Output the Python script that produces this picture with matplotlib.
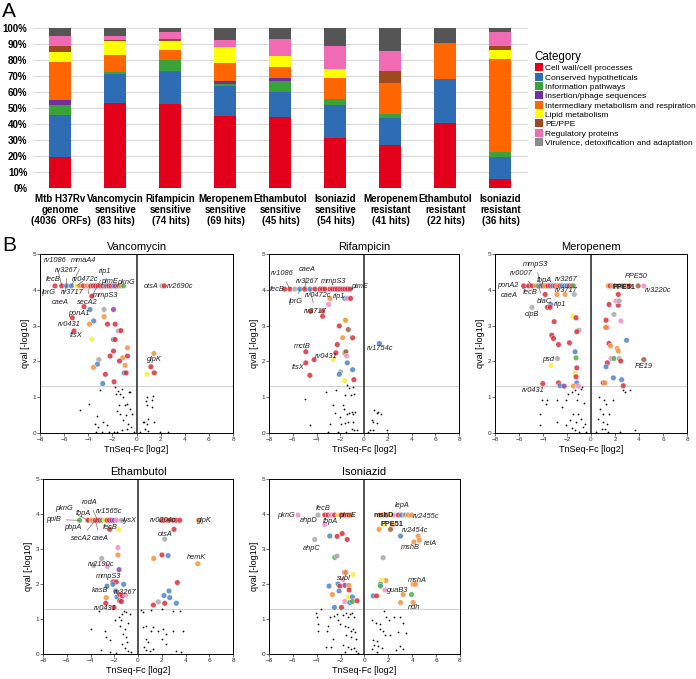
import numpy as np
import matplotlib
matplotlib.use("Agg")
import matplotlib.pyplot as plt
from matplotlib.patches import Patch

plt.rcParams["font.family"] = ["Liberation Sans", "DejaVu Sans"]

# ---------------- panel A data ----------------
CATEGORIES = [
    "Cell wall/cell processes", "Conserved hypotheticals", "Information pathways",
    "Insertion/phage sequences", "Intermediary metabolism and respiration",
    "Lipid metabolism", "PE/PPE", "Regulatory proteins",
    "Virulence, detoxification and adaptation",
]
CAT_KEYS = ["cw", "ch", "ip", "is", "im", "lm", "pe", "rp", "vd"]
BAR_COLORS = ["#e2001a", "#2e6db4", "#3aa338", "#7030a0", "#ff6600",
              "#ffff00", "#9e4a1e", "#f06bb4", "#555555"]
LEGEND_GREY = "#8c8c8c"
DOT_COLORS = {"cw": "#d9303f", "ch": "#4f86c6", "ip": "#4caf50", "is": "#8e44ad",
              "im": "#f5923e", "lm": "#f7ef3a", "pe": "#a0613a", "rp": "#ee8fc8",
              "vd": "#a8a8a8"}

BAR_LABELS = ["Mtb H37Rv\ngenome\n(4036  ORFs)", "Vancomycin\nsensitive\n(83 hits)",
              "Rifampicin\nsensitive\n(74 hits)", "Meropenem\nsensitive\n(69 hits)",
              "Ethambutol\nsensitive\n(45 hits)", "Isoniazid\nsensitive\n(54 hits)",
              "Meropenem\nresistant\n(41 hits)", "Ethambutol\nresistant\n(22 hits)",
              "Isoniazid\nresistant\n(36 hits)"]
# share per category, order of CATEGORIES (genome in %, others as hit counts)
GENOME = [19.5, 26.1, 6.3, 3.3, 23.3, 6.5, 3.9, 5.9, 5.2]
VAN_SENS = [44, 15, 1, 0, 9, 7, 1, 2, 4]
RIF_SENS = [39, 15, 5, 0, 5, 4, 1, 3, 2]
MER_SENS = [31, 13, 1, 1, 8, 7, 0, 3, 5]
ETH_SENS = [20, 7, 3, 1, 3, 3, 0, 5, 3]
INH_SENS = [17, 11, 2, 0, 7, 3, 0, 8, 6]
MER_RES = [11, 7, 1, 0, 8, 0, 3, 5, 6]
ETH_RES = [9, 6, 0, 0, 5, 0, 0, 0, 2]
INH_RES = [2, 5, 1, 0, 21, 2, 1, 3, 1]

# ---------------- panel B data ----------------
# Vancomycin
VAN_TOP_Q = 4.11
VAN_TOP_X = [-6.76, -6.2, -5.8, -5.4, -4.96, -4.7, -4.4, -4.1, -3.8, -3.6, -3.4, -3.2, -3.0,
             -2.8, -2.6, -2.5, -2.3, -2.1, -1.9, -1.75, -1.5, -1.3, -1.08, 2.1, 2.3]
VAN_TOP_CAT = ["cw", "cw", "ch", "ch", "lm", "im", "cw", "im", "cw", "cw", "cw", "cw", "cw",
               "cw", "cw", "ch", "cw", "cw", "ch", "is", "pe", "im", "ip", "vd", "cw"]
VAN_X = [-4.35, -3.71, -3.85, -2.69, -1.91, -3.55, -3.9, -5.32, -2.69, -2.41, -1.77, -5.18,
         -1.5, -1.3, -3.71, -1.91, -1.77, -0.75, -1.91, -2.19, -3.13, -1.14, -0.75, -1.41,
         -3.24, -0.94, -3.57, -1.02, -0.86, -2.58, -1.86, -2.8, 1.44, 1.19, 0.86, 1.47]
VAN_Q = [3.53, 3.82, 3.45, 3.45, 3.45, 3.13, 3.04, 3.22, 3.25, 3.04, 3.04, 2.85,
         2.85, 2.86, 2.62, 2.61, 2.61, 2.38, 2.29, 2.15, 2.05, 2.10, 2.15, 2.01,
         1.92, 1.89, 1.83, 1.68, 1.68, 1.64, 1.43, 1.38, 2.22, 1.85, 1.64, 1.68]
VAN_CAT = ["cw", "cw", "ch", "vd", "is", "ch", "im", "cw", "im", "cw", "cw", "cw",
           "vd", "cw", "lm", "ch", "cw", "im", "cw", "cw", "vd", "im", "cw", "cw",
           "ch", "im", "im", "ch", "cw", "cw", "cw", "ch", "im", "cw", "lm", "cw"]
VAN_BX = [-4.68, -3.93, -3.02, -3.3, -2.74, -3.43, -3.16, -2.47, -1.77, -1.5, -1.69, -1.36,
          -1.22, -0.66, -0.53, -1.08, -1.44, -1.58, -1.36, -0.94, -0.75, -0.53, -0.39, -0.86,
          -1.08, -0.72, -0.44, -0.8, -1.22, -1.63, 0.86, 1.36, 1.27, 0.8, 0.86, 1.27, 0.64,
          0.86, 0.53, 0.99, 1.41, 0.72, 0.99, 1.97, -3.4, -2.9, -2.3, -1.9, -0.2, 0.3, 2.6]
VAN_BQ = [0.65, 0.82, 1.19, 0.47, 0.31, 0.24, 0.17, 0.21, 1.29, 1.17, 1.08, 1.1,
          1.24, 1.15, 1.15, 1.0, 0.77, 0.62, 0.54, 0.77, 0.82, 0.68, 0.54, 0.49,
          0.35, 0.26, 0.17, 0.12, 0.07, 0.03, 1.0, 1.03, 0.93, 0.9, 0.77, 0.73, 0.31,
          0.26, 0.31, 0.4, 0.31, 0.12, 0.06, 0.03, 0.02, 0.02, 0.02, 0.02, 0.02, 0.02, 0.02]
VAN_LABELS = [("rv1086", -6.7, 4.81, -6.2, 4.11), ("mmaA4", -4.4, 4.81, -5.4, 4.11),
              ("rv3267", -5.8, 4.55, -5.8, 4.11), ("rip1", -2.6, 4.5, -3.71, 3.82),
              ("fecB", -6.9, 4.28, None, None), ("rv0472c", -4.3, 4.28, -4.96, 4.11),
              ("pimE", -2.2, 4.22, None, None), ("pknG", -0.9, 4.2, None, None),
              ("lprG", -7.3, 3.93, None, None), ("rv3717", -5.3, 3.93, -4.7, 4.11),
              ("mmpS3", -2.6, 3.85, None, None), ("caeA", -6.3, 3.65, -5.8, 4.11),
              ("secA2", -4.1, 3.65, -3.9, 4.11), ("ponA1", -4.8, 3.33, None, None),
              ("rv0431", -5.6, 3.04, None, None), ("ftsX", -5.0, 2.72, None, None),
              ("otsA", 1.2, 4.1, None, None), ("rv2690c", 3.6, 4.1, None, None),
              ("glpK", 1.5, 2.05, None, None)]

# Rifampicin
RIF_TOP_Q = 4.02
RIF_TOP_X = [-6.68, -6.25, -5.83, -5.41, -5.0, -4.56, -4.14, -3.72, -3.5, -3.3, -2.87, -2.65,
             -2.45, -2.25, -2.03, -1.8, -1.61, -1.4, -1.18]
RIF_TOP_CAT = ["cw", "cw", "vd", "ch", "cw", "ch", "cw", "cw", "cw", "cw", "cw", "cw",
               "cw", "cw", "cw", "cw", "cw", "cw", "cw"]
RIF_X = [-1.61, -1.41, -1.13, -2.87, -2.99, -4.51, -3.49, -3.49, -1.61, -1.55, -2.08, -1.32,
         -1.8, -0.96, -2.25, -4.9, -2.37, -1.61, -1.52, -1.46, -4.2, -2.59, -1.41, -4.9,
         -0.96, -1.97, -2.08, -4.56, -1.63, -0.85, 1.3]
RIF_Q = [3.76, 3.76, 3.76, 3.76, 3.59, 3.4, 3.4, 3.26, 3.15, 3.15, 2.99, 2.89,
         2.66, 2.66, 2.47, 2.27, 2.24, 2.24, 2.27, 2.15, 2.05, 2.05, 1.96, 1.96,
         1.77, 1.71, 1.64, 1.61, 1.46, 1.49, 2.5]
RIF_CAT = ["ch", "rp", "cw", "im", "rp", "cw", "cw", "cw", "lm", "im", "cw", "pe",
           "im", "cw", "cw", "cw", "cw", "ip", "pe", "rp", "cw", "lm", "ch", "cw",
           "ch", "vd", "ch", "cw", "lm", "cw", "ch"]
RIF_BX = [-4.99, -3.21, -2.37, -1.46, -1.24, -0.9, -1.61, -1.13, -0.85, -2.65, -2.45, -2.03,
          -1.8, -1.69, -1.46, -1.24, -1.04, -0.9, -0.76, -1.61, -1.32, -0.96, -1.04, -0.85,
          -0.62, -4.56, -2.87, -1.97, 0.85, 1.07, 1.21, 1.44, 0.65, 0.79, 1.07, 0.51, 0.79,
          1.97, 1.9, -3.0, -2.2, -1.5, 0.3]
RIF_BQ = [0.96, 1.15, 1.21, 1.35, 1.26, 1.29, 1.07, 1.07, 1.1, 0.79, 0.56, 0.45,
          0.77, 0.68, 0.54, 0.56, 0.59, 0.54, 0.59, 0.28, 0.31, 0.31, 0.12, 0.09,
          0.09, 0.21, 0.26, 0.26, 0.65, 0.56, 0.59, 0.54, 0.35, 0.31, 0.28, 0.09, 0.09,
          0.09, 0.0, 0.02, 0.02, 0.02, 0.02]
RIF_LABELS = [("rv1086", -6.9, 4.46, -6.25, 4.02), ("caeA", -4.76, 4.57, -5.0, 4.02),
              ("rv3267", -4.8, 4.24, -5.41, 4.02), ("mmpS3", -2.6, 4.24, -3.72, 4.02),
              ("fecB", -7.3, 4.0, None, None), ("pimE", -0.4, 4.09, -1.18, 4.02),
              ("lprG", -5.7, 3.66, -5.41, 4.02), ("rv0472c", -3.9, 3.85, None, None),
              ("rip1", -2.1, 3.82, None, None), ("rv3717", -4.1, 3.4, -4.56, 4.02),
              ("mctB", -5.2, 2.41, None, None), ("rv0431", -3.2, 2.15, None, None),
              ("ftsX", -5.55, 1.82, None, None), ("rv1754c", 1.35, 2.36, None, None)]

# Meropenem
MER_TOP_Q = 4.11
MER_TOP_X = [-5.62, -5.2, -4.9, -4.6, -4.4, -4.2, -4.0, -3.8, -3.6, -3.4, -3.2, -3.0, -2.8,
             -2.6, -2.4, -2.2, -2.0, -1.8, -1.6, -1.47,
             1.44, 1.6, 1.8, 2.0, 2.2, 2.4, 2.6, 2.8, 3.0, 3.2, 3.93, 4.4]
MER_TOP_CAT = ["cw", "cw", "cw", "im", "ip", "ch", "cw", "im", "cw", "cw", "ch", "cw", "im",
               "cw", "ch", "ch", "ch", "cw", "cw", "ip",
               "im", "cw", "im", "cw", "im", "ch", "ch", "cw", "im", "cw", "pe", "rp"]
MER_X = [-3.82, -2.85, -2.16, -1.39, -3.35, -3.63, -3.41, -4.93, -1.52, -1.25, -3.07, -1.0,
         -1.19, -3.27, -3.13, -1.8, -2.71, -1.33, -1.25, -2.8, -3.35, -1.19, -1.33, -1.25,
         -4.02, -2.71, -1.19, -2.58, -2.24, -1.47, -1.05,
         2.27, 2.27, 2.08, 2.35, 1.5, 1.91, 1.25, 2.49, 1.3, 1.22, 2.96, 1.5, 2.19, 2.27,
         1.63, 1.66, 1.91, 2.35, 2.47, 1.36, 1.25, 4.4, 1.86, 2.55, 1.02, 1.16, 2.69]
MER_Q = [3.87, 3.87, 3.87, 3.87, 3.59, 3.51, 3.51, 3.51, 3.26, 3.22, 3.11, 2.87,
         2.83, 2.73, 2.64, 2.52, 2.47, 2.27, 2.1, 2.08, 1.89, 1.82, 1.66, 1.57,
         1.38, 1.4, 1.4, 1.32, 1.31, 1.31, 1.31,
         3.87, 3.57, 3.69, 3.69, 3.59, 3.31, 3.15, 3.13, 2.95, 2.95, 2.59, 2.5, 2.36, 2.29,
         2.43, 2.08, 2.08, 2.08, 2.01, 1.96, 1.85, 2.05, 1.54, 1.49, 1.4, 1.4, 1.32]
MER_CAT = ["cw", "im", "im", "vd", "ch", "cw", "cw", "vd", "lm", "cw", "cw", "vd",
           "cw", "cw", "cw", "cw", "cw", "ch", "ip", "vd", "lm", "cw", "lm", "cw",
           "cw", "cw", "ch", "ch", "is", "im", "rp",
           "cw", "cw", "rp", "vd", "cw", "vd", "cw", "rp", "cw", "im", "ch", "cw", "im", "im",
           "im", "rp", "ip", "vd", "cw", "cw", "ch", "pe", "ch", "ch", "cw", "im", "cw"]
MER_BX = [-4.1, -3.63, -3.74, -2.8, -4.24, -4.29, -2.85, -2.44, -2.08, -1.88, -1.61, -1.33,
          -1.05, -0.86, -0.78, -1.19, -0.58, -1.47, -1.05, -0.86, -1.25, -1.75, -2.08, -1.61,
          -1.33, -0.69, -0.5, 0.69, 1.08, 1.25, 0.75, 1.02, 0.61, 0.97, 1.3, 0.89, 1.16,
          1.52, 2.69, 2.82, 3.24, 1.86, 3.66, 2.41, -1.0, -0.4, 0.4, 1.4]
MER_BQ = [0.93, 0.91, 0.8, 0.93, 0.54, 0.21, 0.31, 0.73, 0.93, 1.08, 1.15, 1.19,
          1.1, 1.24, 1.29, 0.91, 0.84, 0.54, 0.54, 0.4, 0.31, 0.35, 0.21, 0.15,
          0.09, 0.17, 0.26, 1.01, 0.93, 0.82, 0.68, 0.54, 0.4, 0.31, 0.26, 0.12, 0.12,
          0.54, 1.19, 1.15, 1.19, 0.93, 0.09, 0.03, 0.02, 0.02, 0.02, 0.02]
MER_LABELS = [("mmpS3", -4.6, 4.72, -4.2, 4.11), ("rv0007", -5.8, 4.46, -4.9, 4.11),
              ("fbpA", -3.9, 4.27, None, None), ("rv3267", -2.1, 4.3, None, None),
              ("ponA2", -6.9, 4.13, None, None), ("caeA", -6.8, 3.85, -5.2, 4.11),
              ("fecB", -5.1, 3.92, -4.6, 4.11), ("rv3717", -2.1, 3.99, None, None),
              ("blaC", -3.9, 3.67, -4.4, 4.11), ("rip1", -2.6, 3.58, None, None),
              ("clpB", -4.9, 3.3, None, None), ("psd", -3.6, 2.05, None, None),
              ("rv0431", -4.8, 1.19, None, None), ("PPE50", 3.8, 4.36, None, None),
              ("PPE51", 2.7, 4.06, None, None), ("rv3220c", 5.6, 3.99, None, None),
              ("PE19", 4.35, 1.87, None, None)]

# Ethambutol
ETH_TOP_Q = 3.82
ETH_TOP_X = [-4.92, -4.2, -3.9, -3.6, -3.4, -3.2, -3.0, -2.8, -2.6, -2.4, -2.2, -2.0, -1.8,
             -1.4, 1.97, 2.19, 2.39, 2.6, 2.95, 3.23, 3.51, 5.11]
ETH_TOP_CAT = ["ip", "cw", "im", "cw", "cw", "cw", "ip", "lm", "cw", "cw", "is", "is", "rp",
               "vd", "cw", "cw", "im", "cw", "cw", "cw", "cw", "im"]
ETH_X = [-2.39, -1.63, -1.69, -1.69, -3.06, -3.74, -2.58, -1.6, -2.11, -1.83, -2.61, -2.11,
         -1.21, -1.88, -2.67, -1.77, -1.54, -1.32, -1.04, -1.54, -1.4, -2.72, -2.02,
         3.03, 2.25, 1.32, 2.02, 2.53, 5.03, 3.31, 2.61, 2.19, 2.67, 1.71, 2.25, 3.23, 1.29]
ETH_Q = [3.56, 3.56, 3.04, 2.83, 2.73, 2.53, 2.5, 2.41, 2.06, 2.06, 1.94, 1.99,
         1.99, 1.8, 1.61, 1.63, 1.7, 1.66, 1.68, 1.52, 1.5, 1.45, 1.33,
         3.56, 3.28, 2.73, 2.83, 2.81, 2.58, 2.04, 1.8, 1.67, 1.61, 1.49, 1.45, 1.45, 1.4]
ETH_CAT = ["cw", "lm", "rp", "im", "vd", "vd", "rp", "is", "cw", "cw", "ch", "ch",
           "ch", "ch", "im", "ch", "cw", "cw", "rp", "cw", "cw", "cw", "cw",
           "cw", "vd", "im", "cw", "ch", "im", "cw", "ch", "ch", "ch", "vd", "cw", "ch", "cw"]
ETH_BX = [-3.29, -3.93, -2.81, -2.67, -2.39, -1.97, -1.6, -1.46, -1.32, -1.21, -0.98, -0.7,
          -0.84, -1.49, -1.12, -1.26, -0.98, -0.9, -1.32, -1.12, -0.84, -0.56, -3.09, -2.33,
          -1.83, 0.28, 0.42, 1.12, 2.05, 2.95, 3.51, 0.42, 0.7, 1.12, 1.26, 1.69, 2.11, 2.39,
          2.05, 2.39, 2.95, 3.79, 0.7, 0.84, 0.48, 0.7, 0.98, 1.26, 3.23, 3.65]
ETH_BQ = [1.22, 0.72, 0.66, 0.49, 0.41, 0.98, 1.07, 0.97, 1.14, 1.22, 1.19, 1.14,
          0.88, 0.79, 0.72, 0.58, 0.49, 0.35, 0.3, 0.16, 0.09, 0.07, 0.11, 0.07,
          0.04, 1.25, 1.19, 1.25, 1.28, 1.22, 1.22, 0.77, 0.81, 0.67, 0.77, 0.67, 0.72, 0.58,
          0.44, 0.3, 0.67, 0.66, 0.44, 0.35, 0.21, 0.11, 0.08, 0.13, 0.09, 0.07]
ETH_LABELS = [("rodA", -4.1, 4.34, -3.4, 3.82), ("pknG", -6.2, 4.16, -4.2, 3.82),
              ("rv1565c", -2.45, 4.06, -3.2, 3.82), ("fbpA", -4.6, 4.0, None, None),
              ("ppiB", -7.1, 3.84, -4.92, 3.82), ("lysX", -0.7, 3.81, -1.4, 3.82),
              ("pbpA", -5.5, 3.62, -4.2, 3.82), ("fecB", -2.35, 3.62, None, None),
              ("secA2", -4.8, 3.31, -3.6, 3.82), ("caeA", -3.2, 3.3, -3.6, 3.82),
              ("rv0204c", 2.1, 3.82, None, None), ("glpK", 5.6, 3.8, None, None),
              ("otsA", 2.3, 3.42, None, None), ("hemK", 4.9, 2.75, None, None),
              ("rv2190c", -3.1, 2.57, None, None), ("mmpS3", -2.45, 2.2, None, None),
              ("kasB", -3.2, 1.8, None, None), ("rv3267", -1.1, 1.77, None, None),
              ("rv0431", -2.8, 1.3, None, None)]

# Isoniazid
INH_TOP_Q = 3.97
INH_TOP_X = [-5.57, -3.89, -3.33, -3.05, -2.77, -2.5, -2.2, -1.95, -1.7, -1.45, -1.25, -1.09,
             1.29, 1.57, 1.85, 2.07, 2.41, 2.83, 3.1, 3.38, 3.66, 3.94]
INH_TOP_CAT = ["rp", "vd", "cw", "cw", "rp", "cw", "lm", "cw", "cw", "im", "cw", "im",
               "im", "im", "cw", "lm", "rp", "cw", "ch", "vd", "im", "im"]
INH_X = [-3.33, -2.91, -2.29, -1.87, -1.45, -4.17, -2.49, -2.29, -1.65, -1.57, -0.95, -1.79,
         -2.97, -2.21, -1.65, -1.31, -2.07, -2.13, -1.29, -2.69, -1.37, -1.01, -1.65, -1.23,
         -1.01, -0.62, -2.52, -1.93,
         2.35, 1.57, 1.23, 2.18, 3.02, 4.5, 4.59, 4.14, 1.57, 1.79, 1.43, 1.34, 1.34, 4.08,
         4.28, 1.71, 0.73, 1.01, 3.24, 3.94, 3.02, 4.08]
INH_Q = [3.7, 3.37, 3.36, 3.44, 3.27, 3.27, 2.76, 2.8, 2.33, 2.33, 2.27, 2.13,
         1.94, 2.0, 1.96, 1.96, 1.94, 1.8, 1.83, 1.7, 1.63, 1.63, 1.5, 1.47,
         1.5, 1.52, 1.33, 1.33,
         3.7, 3.7, 3.56, 3.56, 3.37, 3.37, 3.25, 3.2, 2.75, 2.1, 2.1, 1.99, 1.94, 1.99,
         1.99, 1.83, 1.66, 1.66, 1.7, 1.7, 1.47, 1.47]
INH_CAT = ["rp", "ch", "cw", "cw", "cw", "vd", "ip", "vd", "cw", "im", "lm", "rp",
           "ch", "ch", "is", "im", "cw", "ch", "cw", "im", "lm", "ch", "rp", "ch",
           "ip", "cw", "ch", "cw",
           "im", "lm", "im", "pe", "ch", "im", "im", "im", "vd", "im", "lm", "ch", "ip", "im",
           "im", "rp", "ch", "cw", "im", "ip", "im", "im"]
INH_BX = [-4.03, -3.97, -3.89, -3.89, -3.61, -3.05, -3.13, -2.91, -2.57, -2.29, -2.21, -2.07,
          -1.79, -1.57, -1.37, -1.23, -1.01, -0.9, -1.65, -1.37, -1.17, -0.95, -0.81, -1.51,
          -1.09, -0.73, -2.63, -3.24, -2.77, -1.79, -1.37, -1.17, -0.9, -0.67, -0.53, -1.65,
          0.67, 0.95, 1.34, 1.62, 1.79, 2.07, 2.46, 2.96, 3.24, 3.47, 1.29, 1.57, 1.71, 2.13,
          2.83, 0.73, 1.01, 0.78, 1.15, 1.43, 0.67, 1.01, 2.96, 3.24, 2.63]
INH_BQ = [1.16, 1.05, 0.86, 0.66, 1.28, 0.79, 0.66, 1.07, 1.1, 1.14, 0.96, 0.86,
          1.12, 1.16, 1.05, 1.14, 1.16, 1.07, 0.81, 0.77, 0.67, 0.72, 0.63, 0.53,
          0.49, 0.44, 0.44, 0.19, 0.21, 0.25, 0.19, 0.13, 0.16, 0.09, 0.04, 0.07,
          0.97, 0.88, 0.86, 1.22, 1.07, 0.97, 1.07, 1.07, 0.88, 0.6, 0.72, 0.67, 0.53, 0.53,
          0.63, 0.39, 0.37, 0.25, 0.22, 0.16, 0.13, 0.07, 0.22, 0.13, 0.11]
INH_LABELS = [("fecB", -3.5, 4.15, None, None), ("lepA", 3.2, 4.25, 3.38, 3.97),
              ("pknG", -6.6, 3.97, None, None), ("pimE", -1.4, 3.95, None, None),
              ("mshD", 1.6, 3.95, None, None), ("rv2455c", 5.2, 3.93, None, None),
              ("ahpD", -4.7, 3.8, None, None), ("fbpA", -2.9, 3.78, None, None),
              ("PPE51", 2.3, 3.69, None, None), ("rv2454c", 4.2, 3.53, None, None),
              ("relA", 5.5, 3.17, None, None), ("mshB", 3.8, 3.03, None, None),
              ("ahpC", -4.45, 3.02, None, None), ("subI", -1.7, 2.17, None, None),
              ("mshA", 4.4, 2.1, None, None), ("guaB3", 2.8, 1.8, None, None),
              ("ndh", 4.15, 1.33, None, None)]

UPRIGHT = {"PPE51", "mshD"}


def draw_volcano(ax, title, top_x, top_q, top_cat, xs, qs, cats, bx, bq, labels):
    ax.axhline(1.3, color="#c8c8c8", lw=0.6, zorder=1)
    ax.axvline(0, color="#333333", lw=1.2, zorder=1)
    ax.scatter(bx, bq, s=1.6, c="black", lw=0, zorder=2)
    ax.scatter(xs, qs, s=16, c=[DOT_COLORS[c] for c in cats], alpha=0.85,
               lw=0.3, edgecolors="white", zorder=3)
    ax.scatter(top_x, np.full(len(top_x), top_q), s=16,
               c=[DOT_COLORS[c] for c in top_cat], alpha=0.85,
               lw=0.3, edgecolors="white", zorder=3)
    for text, tx, ty, px, py in labels:
        style = "normal" if text in UPRIGHT else "italic"
        weight = "bold" if text in UPRIGHT else "normal"
        if px is not None:
            ax.annotate(text, xy=(px, py), xytext=(tx, ty), fontsize=5.3,
                        style=style, weight=weight, ha="center", va="center",
                        color="#222222", zorder=4,
                        arrowprops=dict(arrowstyle="-", lw=0.4, color="#555555",
                                        shrinkA=1.5, shrinkB=0))
        else:
            ax.text(tx, ty, text, fontsize=5.3, style=style, weight=weight,
                    ha="center", va="center", color="#222222", zorder=4)
    ax.set_xlim(-8, 8)
    ax.set_ylim(0, 5)
    ax.set_xticks(np.arange(-8, 9, 2))
    ax.set_yticks(np.arange(0, 6, 1))
    ax.tick_params(labelsize=4.6, length=2, width=0.5, pad=0.8, colors="#333333")
    for sp in ax.spines.values():
        sp.set_linewidth(0.7)
    ax.set_xlabel("TnSeq-Fc [log2]", fontsize=6.5, labelpad=2.5)
    ax.set_ylabel("qval [-log10]", fontsize=6.5, labelpad=2)
    ax.set_title(title, fontsize=8, pad=3)


fig = plt.figure(figsize=(6.96, 6.79), dpi=100)

# ---------------- panel A ----------------
axA = fig.add_axes([0.0474, 0.7231, 0.7112, 0.2357])
bars = [GENOME, VAN_SENS, RIF_SENS, MER_SENS, ETH_SENS, INH_SENS, MER_RES, ETH_RES, INH_RES]
shares = np.array([np.array(b, float) / sum(b) * 100 for b in bars])
xpos = np.arange(len(bars))
bottom = np.zeros(len(bars))
for i, col in enumerate(BAR_COLORS):
    axA.bar(xpos, shares[:, i], 0.4, bottom=bottom, color=col, zorder=2)
    bottom += shares[:, i]
axA.set_xlim(-0.5, len(bars) - 0.5)
axA.set_ylim(0, 100)
axA.set_yticks(np.arange(0, 101, 10))
axA.set_yticklabels([f"{v}%" for v in range(0, 101, 10)], fontsize=7, weight="bold")
axA.set_xticks(xpos)
axA.set_xticklabels(BAR_LABELS, fontsize=7, weight="bold", linespacing=1.15)
axA.tick_params(length=0, pad=4)
axA.grid(axis="y", color="#d9d9d9", lw=0.8, zorder=0)
for sp in axA.spines.values():
    sp.set_visible(False)

handles = [Patch(facecolor=c, edgecolor="none") for c in BAR_COLORS[:-1]] + \
          [Patch(facecolor=LEGEND_GREY, edgecolor="none")]
leg = fig.legend(handles, CATEGORIES, loc="upper left", bbox_to_anchor=(0.768, 0.925),
                 frameon=False, fontsize=6.0, title="Category", title_fontsize=8.3,
                 handlelength=1.0, handleheight=1.1, handletextpad=0.25,
                 labelspacing=0.06, borderaxespad=0, borderpad=0)
leg._legend_box.align = "left"

# ---------------- panel B ----------------
draw_volcano(fig.add_axes([0.0575, 0.3623, 0.2773, 0.2636]), "Vancomycin",
             VAN_TOP_X, VAN_TOP_Q, VAN_TOP_CAT, VAN_X, VAN_Q, VAN_CAT, VAN_BX, VAN_BQ, VAN_LABELS)
draw_volcano(fig.add_axes([0.3865, 0.3623, 0.273, 0.2636]), "Rifampicin",
             RIF_TOP_X, RIF_TOP_Q, RIF_TOP_CAT, RIF_X, RIF_Q, RIF_CAT, RIF_BX, RIF_BQ, RIF_LABELS)
draw_volcano(fig.add_axes([0.7112, 0.3623, 0.276, 0.2636]), "Meropenem",
             MER_TOP_X, MER_TOP_Q, MER_TOP_CAT, MER_X, MER_Q, MER_CAT, MER_BX, MER_BQ, MER_LABELS)
draw_volcano(fig.add_axes([0.0618, 0.0368, 0.273, 0.2578]), "Ethambutol",
             ETH_TOP_X, ETH_TOP_Q, ETH_TOP_CAT, ETH_X, ETH_Q, ETH_CAT, ETH_BX, ETH_BQ, ETH_LABELS)
draw_volcano(fig.add_axes([0.3865, 0.0368, 0.2744, 0.2578]), "Isoniazid",
             INH_TOP_X, INH_TOP_Q, INH_TOP_CAT, INH_X, INH_Q, INH_CAT, INH_BX, INH_BQ, INH_LABELS)

fig.text(0.003, 0.997, "A", fontsize=15, ha="left", va="top")
fig.text(0.003, 0.653, "B", fontsize=15, ha="left", va="top")

fig.savefig("out.png", dpi=100)
